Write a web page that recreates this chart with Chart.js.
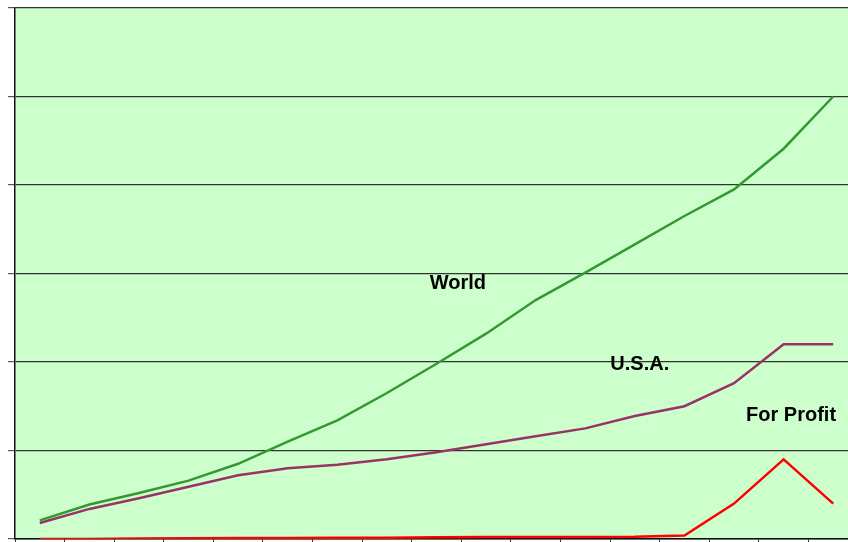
<!DOCTYPE html>
<html>
<head>
<meta charset="utf-8">
<script src="https://cdn.jsdelivr.net/npm/chart.js@4/dist/chart.umd.min.js"></script>
<style>
  html, body { margin: 0; padding: 0; background: #fff; overflow: hidden; }
  #wrap { width: 858px; height: 550px; }
</style>
</head>
<body>
<div id="wrap"><canvas id="lineChart" width="858" height="550"></canvas></div>
<script>
const categories = ['1990', '1991', '1992', '1993', '1994', '1995', '1996', '1997', '1998',
  '1999', '2000', '2001', '2002', '2003', '2004', '2005', '2006'];
const worldValues = [21, 39, 52, 66, 85, 110, 134, 165, 198, 232, 270, 301, 333, 365, 395, 441, 500];
const usaValues = [18, 34, 46, 59, 72, 80, 84, 90, 98, 107, 116, 125, 139, 150, 176, 220, 220];
const forProfitValues = [0, 0, 0.6, 0.8, 1, 1.2, 1.3, 1.4, 2, 2.2, 2.3, 2.4, 2.5, 4, 40, 90, 40];
const yTicks = [0, 100, 200, 300, 400, 500, 600];

// text labels: [text, category index, value]
const seriesLabels = [
  ['World', 8.43, 289],
  ['U.S.A.', 12.1, 197],
  ['For Profit', 15.15, 140]
];

const areaFill = {
  id: 'areaFill',
  beforeDraw(chart) {
    const { ctx, chartArea } = chart;
    ctx.save();
    ctx.fillStyle = '#CCFFCC';
    ctx.fillRect(chartArea.left, chartArea.top, chartArea.right - chartArea.left, chartArea.bottom - chartArea.top);
    ctx.restore();
  }
};

const textLabels = {
  id: 'textLabels',
  afterDatasetsDraw(chart) {
    const { ctx, scales } = chart;
    ctx.save();
    ctx.font = 'bold 20px "Liberation Sans", Arial, sans-serif';
    ctx.fillStyle = '#000';
    ctx.textAlign = 'center';
    ctx.textBaseline = 'middle';
    seriesLabels.forEach(([text, idx, val]) => {
      ctx.fillText(text, scales.x.getPixelForDecimal((idx + 0.5) / categories.length), scales.y.getPixelForValue(val));
    });
    ctx.restore();
  }
};

const ctx = document.getElementById('lineChart');
new Chart(ctx, {
  type: 'line',
  data: {
    labels: categories,
    datasets: [
      { label: 'World', data: worldValues, borderColor: '#339933', borderWidth: 2.5 },
      { label: 'U.S.A.', data: usaValues, borderColor: '#993366', borderWidth: 2.5 },
      { label: 'For Profit', data: forProfitValues, borderColor: '#FF0000', borderWidth: 2.5 }
    ]
  },
  options: {
    responsive: false,
    animation: false,
    layout: { padding: { top: 8, left: 8, right: 0, bottom: 0 } },
    elements: { point: { radius: 0 }, line: { tension: 0 } },
    scales: {
      x: {
        offset: true,
        grid: { offset: true, drawOnChartArea: false, tickLength: 11, tickColor: '#333', lineWidth: 1 },
        border: { color: '#111', width: 1.5 },
        ticks: { display: false }
      },
      y: {
        min: yTicks[0],
        max: yTicks[yTicks.length - 1],
        afterBuildTicks: (axis) => { axis.ticks = yTicks.map(v => ({ value: v })); },
        grid: { color: '#333', lineWidth: 1.2, tickLength: 7, tickColor: '#555' },
        border: { color: '#111', width: 1.5 },
        ticks: { display: false }
      }
    },
    plugins: {
      legend: { display: false },
      tooltip: { enabled: false }
    }
  },
  plugins: [areaFill, textLabels]
});
</script>
</body>
</html>
